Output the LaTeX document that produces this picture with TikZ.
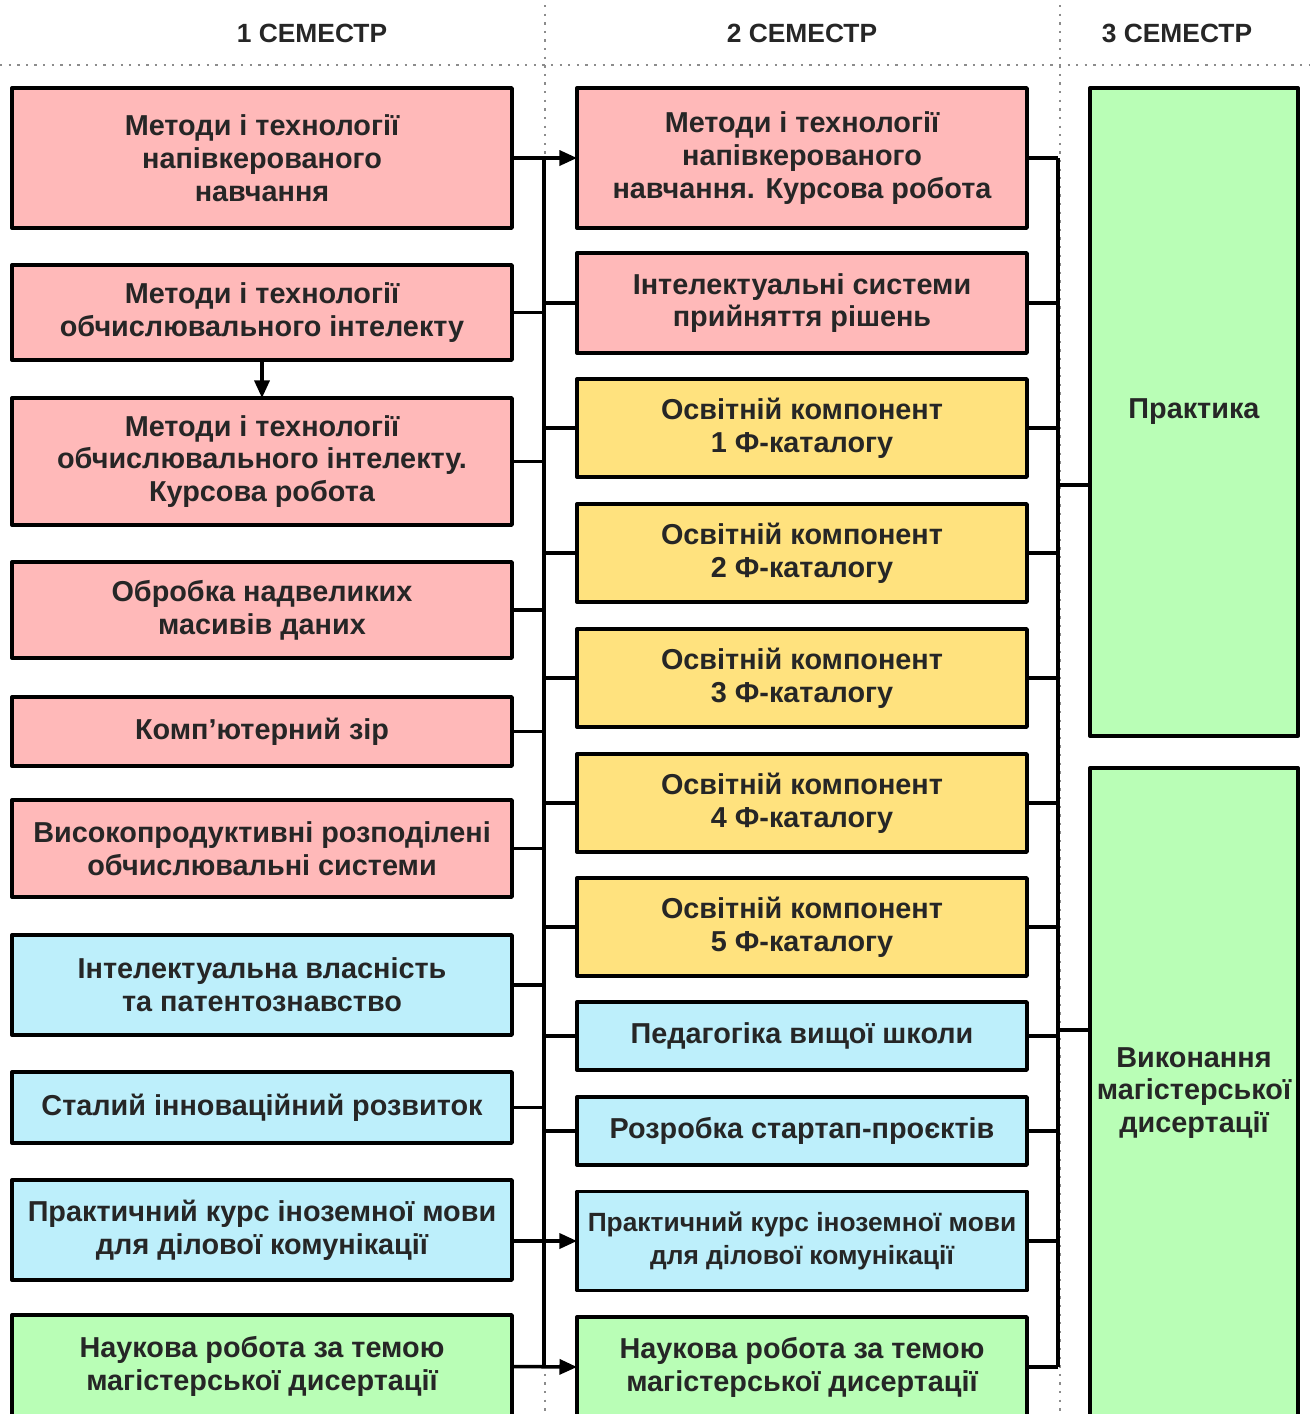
\documentclass[tikz,border=0pt]{standalone}
\usepackage{fontspec}
\setmainfont{Liberation Sans}
\usetikzlibrary{arrows.meta}
\definecolor{pinkbox}{HTML}{FFB9B9}
\definecolor{yellowbox}{HTML}{FFE27E}
\definecolor{bluebox}{HTML}{BDEFFB}
\definecolor{greenbox}{HTML}{B9FEB6}
\tikzset{
	course/.style={draw=black, line width=2pt, inner sep=0pt, outer sep=0pt, align=center, text=black!85, font=\fontsize{16.4}{18.7}\selectfont\bfseries},
	first/.style={course, minimum width=10cm},
	second/.style={course, minimum width=9cm},
	third/.style={course, minimum width=4.16cm},
	link/.style={line width=2pt},
	dots/.style={black!45, line width=1.3pt, dash pattern=on 1.3pt off 3.6pt},
	sem/.style={font=\fontsize{15}{18}\selectfont\bfseries, text=black!85}
}
\begin{document}
\begin{tikzpicture}[x=0.02cm, y=-0.02cm, >={Triangle[length=10pt,width=8.5pt]}, line join=round]
	\def\xa{262} \def\xb{802} \def\xc{1194} % centres of the columns
	\def\busa{544} \def\busb{1058}
	\useasboundingbox (0,0) rectangle (1310,1414);
	% semesters
	\draw[dots] (0,65)--(1310,65);
	\draw[dots] (545,5)--(545,1414);
	\draw[dots] (1060,5)--(1060,1414);
	\node[sem] (s1) at (312,33) {1 СЕМЕСТР};
	\node[sem] (s2) at (802,33) {2 СЕМЕСТР};
	\node[sem] (s3) at (1177,33) {3 СЕМЕСТР};
	% 1 semester
	\node[first, fill=pinkbox, minimum height=2.8cm] (a1) at (\xa,158) {Методи і технології\\напівкерованого\\навчання};
	\node[first, fill=pinkbox, minimum height=1.9cm] (a2) at (\xa,312.5) {Методи і технології\\обчислювального інтелекту};
	\node[first, fill=pinkbox, minimum height=2.54cm] (a3) at (\xa,461.5) {Методи і технології\\обчислювального інтелекту.\\Курсова робота};
	\node[first, fill=pinkbox, minimum height=1.92cm] (a4) at (\xa,610) {Обробка надвеликих\\масивів даних};
	\node[first, fill=pinkbox, minimum height=1.38cm] (a5) at (\xa,731.5) {Комп’ютерний зір};
	\node[first, fill=pinkbox, minimum height=1.94cm] (a6) at (\xa,848.5) {Високопродуктивні розподілені\\обчислювальні системи};
	\node[first, fill=bluebox, minimum height=2cm] (a7) at (\xa,985) {Інтелектуальна власність\\та патентознавство};
	\node[first, fill=bluebox, minimum height=1.42cm] (a8) at (\xa,1107.5) {Сталий інноваційний розвиток};
	\node[first, fill=bluebox, minimum height=2cm] (a9) at (\xa,1230) {Практичний курс іноземної мови\\для ділової комунікації};
	\node[first, fill=greenbox, minimum height=2.06cm] (a10) at (\xa,1366.5) {Наукова робота за темою\\магістерської дисертації};
	% 2 semester
	\node[second, fill=pinkbox, minimum height=2.8cm] (b1) at (\xb,158) {Методи і технології\\напівкерованого\\навчання. Курсова робота};
	\node[second, fill=pinkbox, minimum height=2cm] (b2) at (\xb,303) {Інтелектуальні системи\\прийняття рішень};
	\node[second, fill=yellowbox, minimum height=1.96cm] (b3) at (\xb,428) {Освітній компонент\\1 Ф-каталогу};
	\node[second, fill=yellowbox, minimum height=1.96cm] (b4) at (\xb,553) {Освітній компонент\\2 Ф-каталогу};
	\node[second, fill=yellowbox, minimum height=1.96cm] (b5) at (\xb,678) {Освітній компонент\\3 Ф-каталогу};
	\node[second, fill=yellowbox, minimum height=1.96cm] (b6) at (\xb,803) {Освітній компонент\\4 Ф-каталогу};
	\node[second, fill=yellowbox, minimum height=1.96cm] (b7) at (\xb,927) {Освітній компонент\\5 Ф-каталогу};
	\node[second, fill=bluebox, minimum height=1.36cm] (b8) at (\xb,1036) {Педагогіка вищої школи};
	\node[second, fill=bluebox, minimum height=1.36cm] (b9) at (\xb,1131) {Розробка стартап-проєктів};
	\node[second, fill=bluebox, minimum height=1.98cm, font=\fontsize{15}{18.7}\selectfont\bfseries] (b10) at (\xb,1241) {Практичний курс іноземної мови\\для ділової комунікації};
	\node[second, fill=greenbox, minimum height=2cm] (b11) at (\xb,1367) {Наукова робота за темою\\магістерської дисертації};
	% 3 semester
	\node[third, fill=greenbox, minimum height=12.96cm] (c1) at (\xc,412) {Практика};
	\node[third, fill=greenbox, minimum height=13cm] (c2) at (\xc,1093) {Виконання\\магістерської\\дисертації};
	% buses
	\coordinate (ta) at (\busa,158);
	\coordinate (ea) at (\busa,1367);
	\coordinate (tb) at (\busb,158);
	\coordinate (eb) at (\busb,1367);
	\coordinate (jp) at (\busb,485);
	\coordinate (jv) at (\busb,1030);
	\draw[link] (ta)--(ea);
	\draw[link] (tb)--(eb);
	\draw[link,->] (a1.east)--(b1.west);
	\draw[link,->] (a2.south)--(a3.north);
	\draw[link,->] (a9.east |- b10.west)--(b10.west);
	\draw[link,->] (a10.east)--(b11.west);
	\foreach \n in {2,...,8} \draw[link] (a\n.east)--(a\n.east -| ta);
	\foreach \n in {2,...,9} \draw[link] (b\n.west -| ta)--(b\n.west);
	\foreach \n in {1,...,11} \draw[link] (b\n.east)--(b\n.east -| tb);
	\draw[link] (jp)--(jp -| c1.west);
	\draw[link] (jv)--(jv -| c2.west);
\end{tikzpicture}
\end{document}
